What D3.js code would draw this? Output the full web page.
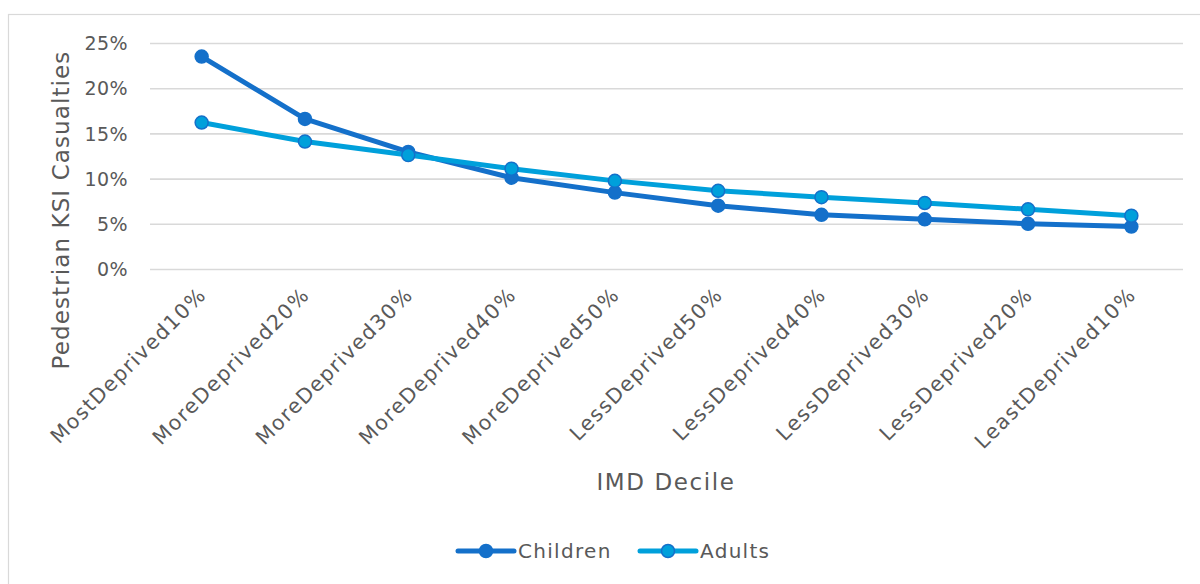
<!DOCTYPE html>
<html>
<head>
<meta charset="utf-8">
<script src="https://cdn.jsdelivr.net/npm/d3@7"></script>
<style>
  html, body { margin: 0; padding: 0; background: #fff; }
  svg { display: block; }
  text { font-family: "DejaVu Sans", "Open Sans", sans-serif; fill: #595959; }
</style>
</head>
<body>
<svg id="chart" width="1200" height="584"></svg>
<script>
// IMD deciles, most to least deprived
const categories = [
  "MostDeprived10%", "MoreDeprived20%", "MoreDeprived30%", "MoreDeprived40%", "MoreDeprived50%",
  "LessDeprived50%", "LessDeprived40%", "LessDeprived30%", "LessDeprived20%", "LeastDeprived10%"
];
// Share of pedestrian KSI casualties (%)
const children = [23.5, 16.6, 12.95, 10.1, 8.45, 7.0, 6.0, 5.5, 5.0, 4.7];
const adults   = [16.2, 14.1, 12.6, 11.1, 9.75, 8.65, 7.95, 7.3, 6.6, 5.9];
const yTicks = [0, 5, 10, 15, 20, 25];

const svg = d3.select("#chart");
const W = 1200, H = 584;
const plot = { left: 150, right: 1183, top: 43, bottom: 269 };
const darkBlue = "#1470CA";

// outer chart frame
svg.append("rect")
  .attr("x", 8.5).attr("y", 14.5)
  .attr("width", W + 10).attr("height", H + 10)
  .attr("fill", "none").attr("stroke", "#d9d9d9").attr("stroke-width", 1.2);

const x = d3.scaleBand().domain(categories).range([plot.left, plot.right]);
const y = d3.scaleLinear().domain([0, 25]).range([plot.bottom, plot.top]);
const cx = d => x(d) + x.bandwidth() / 2;

// horizontal gridlines + y tick labels
const yAxis = d3.axisLeft(y).tickValues(yTicks).tickFormat(d => d + "%")
  .tickSize(-(plot.right - plot.left)).tickPadding(22);
const gy = svg.append("g").attr("transform", `translate(${plot.left},0)`).call(yAxis);
gy.select(".domain").remove();
gy.selectAll(".tick line").attr("stroke", "#d9d9d9").attr("stroke-width", 1.6);
gy.selectAll(".tick text").attr("font-size", 19).attr("fill", "#595959")
  .attr("letter-spacing", 0.4).attr("dy", "0.35em");

// rotated category labels
const xAxis = d3.axisBottom(x).tickSize(0).tickPadding(0);
const gx = svg.append("g").attr("transform", `translate(0,${plot.bottom})`).call(xAxis);
gx.select(".domain").remove();
gx.selectAll(".tick text")
  .attr("font-size", 20.5).attr("fill", "#595959")
  .attr("letter-spacing", 1.5)
  .attr("text-anchor", "end")
  .attr("dy", 0).attr("y", 0)
  .attr("transform", "translate(6,27) rotate(-45)");

// axis titles
svg.append("text")
  .attr("transform", `translate(69,210) rotate(-90)`)
  .attr("text-anchor", "middle").attr("font-size", 23).attr("letter-spacing", 1.1)
  .text("Pedestrian KSI Casualties");
svg.append("text")
  .attr("x", 666).attr("y", 490)
  .attr("text-anchor", "middle").attr("font-size", 23).attr("letter-spacing", 1.6)
  .text("IMD Decile");

// series
const series = [
  { name: "Children", values: children, color: darkBlue, marker: darkBlue },
  { name: "Adults",   values: adults,   color: "#00A0DB", marker: "#00A0DB" }
];
const line = d3.line().x((d, i) => cx(categories[i])).y(d => y(d));

series.forEach(s => {
  svg.append("path").datum(s.values)
    .attr("d", line).attr("fill", "none")
    .attr("stroke", s.color).attr("stroke-width", 5)
    .attr("stroke-linejoin", "round").attr("stroke-linecap", "round");
  svg.append("g").selectAll("circle").data(s.values).join("circle")
    .attr("cx", (d, i) => cx(categories[i])).attr("cy", d => y(d))
    .attr("r", 6.5).attr("fill", s.marker)
    .attr("stroke", darkBlue).attr("stroke-width", 1.5);
});

// legend
const legendItems = [
  { s: series[0], x0: 458 },
  { s: series[1], x0: 640 }
];
const ly = 551;
legendItems.forEach(({ s, x0 }) => {
  const g = svg.append("g");
  g.append("line").attr("x1", x0).attr("x2", x0 + 56).attr("y1", ly).attr("y2", ly)
    .attr("stroke", s.color).attr("stroke-width", 5).attr("stroke-linecap", "round");
  g.append("circle").attr("cx", x0 + 28).attr("cy", ly).attr("r", 6.5)
    .attr("fill", s.marker).attr("stroke", darkBlue).attr("stroke-width", 1.5);
  g.append("text").attr("x", x0 + 60).attr("y", ly).attr("dy", "0.35em")
    .attr("font-size", 20).attr("letter-spacing", 1.3).text(s.name);
});
</script>
</body>
</html>
